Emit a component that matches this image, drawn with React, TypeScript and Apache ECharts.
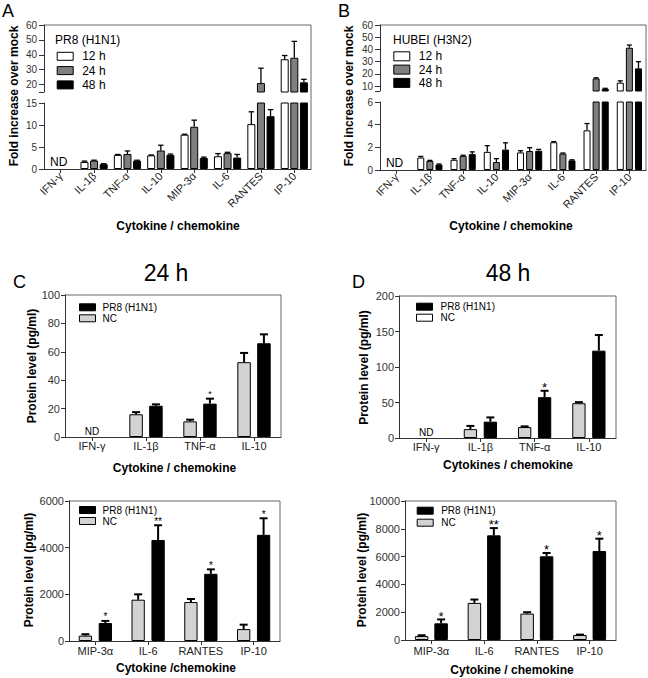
import React, { useEffect, useRef } from 'react';
import * as echarts from 'echarts';

const FONT = 'Liberation Sans, Arial, Helvetica, sans-serif';
const AXIS = '#333333';
const FRAME = '#666666';

// ---------- Panels A / B ----------
const cytokinesAB = ['IFN-γ', 'IL-1β', 'TNF-α', 'IL-10', 'MIP-3α', 'IL-6', 'RANTES', 'IP-10'];
const timePoints = ['12 h', '24 h', '48 h'];

const a12 = [null, 1.6, 3.2, 3.1, 7.8, 2.9, 10.2, 37];
const a12Err = [null, 0.2, 0.1, 0.1, 0.1, 0.6, 2.8, 2.5];
const a24 = [null, 1.9, 3.4, 4.2, 9.6, 3.6, 21, 38];
const a24Err = [null, 0.1, 0.7, 1.2, 1.5, 0.2, 10, 11];
const a48 = [null, 1.1, 1.9, 3.2, 2.5, 2.6, 12, 21.5];
const a48Err = [null, 0.1, 0.1, 0.2, 0.2, 0.7, 1.5, 2];

const b12 = [null, 1.1, 0.9, 1.6, 1.55, 2.45, 3.5, 12.8];
const b12Err = [null, 0.1, 0.1, 0.55, 0.15, 0.05, 0.6, 1.5];
const b24 = [null, 0.8, 1.25, 0.7, 1.67, 1.45, 16.3, 41.4];
const b24Err = [null, 0.05, 0.05, 0.3, 0.3, 0.05, 0.5, 2.2];
const b48 = [null, 0.48, 1.4, 1.8, 1.7, 0.85, 7.8, 24.5];
const b48Err = [null, 0.05, 0.2, 0.6, 0.12, 0.05, 0.4, 5.5];

const aBreak = 15;
const aMax = 60;
const aLowerTickStep = 5;
const aUpperLabels = [20, 30, 40, 50, 60];
const bBreak = 6;
const bMax = 60;
const bLowerTickStep = 2;
const bUpperLabels = [10, 20, 30, 40, 50, 60];

// ---------- Panels C / D ----------
const cytokines1 = ['IFN-γ', 'IL-1β', 'TNF-α', 'IL-10'];
const cytokines2 = ['MIP-3α', 'IL-6', 'RANTES', 'IP-10'];
const groupNames = ['PR8 (H1N1)', 'NC'];

const c1NC = [null, 16, 11, 52.7];
const c1NCErr = [null, 1.5, 1.2, 6.5];
const c1PR8 = [null, 22, 23.5, 66];
const c1PR8Err = [null, 1, 3.5, 6.3];
const c1Sig = ['', '', '*', ''];

const c2NC = [230, 1770, 1670, 510];
const c2NCErr = [60, 230, 130, 190];
const c2PR8 = [770, 4330, 2880, 4550];
const c2PR8Err = [90, 630, 190, 710];
const c2Sig = ['*', '**', '*', '*'];

const d1NC = [null, 12.5, 15.4, 49];
const d1NCErr = [null, 4.5, 1, 1.5];
const d1PR8 = [null, 23, 57.5, 123];
const d1PR8Err = [null, 6, 9, 22];
const d1Sig = ['', '', '*', ''];

const d2NC = [280, 2670, 1900, 360];
const d2NCErr = [60, 240, 100, 30];
const d2PR8 = [1200, 7530, 6020, 6400];
const d2PR8Err = [280, 520, 240, 890];
const d2Sig = ['*', '**', '*', '*'];

const noSig8 = ['', '', '', '', '', '', '', ''];
const noSig4 = ['', '', '', ''];

// ---------- layout ----------
const G = [
  { left: 44, top: 25, width: 267, height: 67 }, // 0 A upper
  { left: 44, top: 103, width: 267, height: 66 }, // 1 A lower
  { left: 380, top: 25, width: 266, height: 66 }, // 2 B upper
  { left: 380, top: 102, width: 266, height: 68 }, // 3 B lower
  { left: 65, top: 295, width: 216, height: 142 }, // 4 C top
  { left: 69, top: 501, width: 211, height: 140 }, // 5 C bottom
  { left: 399, top: 296, width: 217, height: 142 }, // 6 D top
  { left: 405, top: 501, width: 211, height: 139 }, // 7 D bottom
];

function catAxis(gi: number, data: string[], show: boolean, rotate: number, margin: number) {
  return {
    type: 'category',
    gridIndex: gi,
    data,
    show,
    axisLine: { show: true, lineStyle: { color: AXIS, width: 1 } },
    axisTick: { show: true, alignWithLabel: true, length: 4, lineStyle: { color: AXIS } },
    axisLabel: { interval: 0, rotate, margin, fontSize: 11, color: '#222', fontFamily: FONT },
    splitLine: { show: false },
  };
}

function valAxis(
  gi: number,
  min: number,
  max: number,
  interval: number,
  fontSize: number,
  tickLen: number,
  margin: number,
  tickVals?: number[],
  labelVals?: number[]
) {
  const tick: any = { show: true, length: tickLen, lineStyle: { color: AXIS } };
  const label: any = {
    fontSize,
    color: '#333',
    margin,
    fontFamily: FONT,
    formatter: (v: number) => String(v),
  };
  if (tickVals) tick.customValues = tickVals;
  if (labelVals) label.customValues = labelVals;
  return {
    type: 'value',
    gridIndex: gi,
    min,
    max,
    interval,
    axisLine: { show: true, lineStyle: { color: AXIS, width: 1 } },
    axisTick: tick,
    axisLabel: label,
    splitLine: { show: false },
  };
}

function barSeries(gi: number, name: string, data: (number | null)[], color: string, barW: number, gap: number) {
  return {
    type: 'bar',
    name,
    xAxisIndex: gi,
    yAxisIndex: gi,
    data,
    barWidth: barW,
    barGap: gap * 100 + '%',
    clip: true,
    silent: true,
    itemStyle: { color, borderColor: '#000', borderWidth: 1 },
  };
}

function errSeries(
  gi: number,
  vals: (number | null)[],
  errs: (number | null)[],
  sig: string[],
  idx: number,
  n: number,
  barW: number,
  gap: number,
  capW: number,
  lw: number,
  sigSize: number
) {
  const data: number[][] = [];
  vals.forEach((v, k) => {
    if (v != null) data.push([k, v, errs[k] as number]);
  });
  return {
    type: 'custom',
    xAxisIndex: gi,
    yAxisIndex: gi,
    silent: true,
    z: 3,
    data,
    renderItem: (params: any, api: any) => {
      const k = api.value(0);
      const v = api.value(1);
      const e = api.value(2);
      const cs = params.coordSys;
      const c0 = api.coord([k, v]);
      const c1 = api.coord([k, v + e]);
      const groupW = n * barW + (n - 1) * gap * barW;
      const x = c0[0] - groupW / 2 + barW / 2 + idx * barW * (1 + gap);
      const yTop = c1[1];
      if (yTop < cs.y - 0.5 || yTop > cs.y + cs.height + 0.5) return null;
      const yBase = Math.min(c0[1], cs.y + cs.height);
      const children: any[] = [
        { type: 'line', shape: { x1: x, y1: yBase, x2: x, y2: yTop }, style: { stroke: '#000', lineWidth: lw } },
        { type: 'line', shape: { x1: x - capW / 2, y1: yTop, x2: x + capW / 2, y2: yTop }, style: { stroke: '#000', lineWidth: lw } },
      ];
      const s = sig[k];
      if (s) {
        children.push({
          type: 'text',
          x,
          y: yTop - 6 + 0.2 * sigSize,
          style: { text: s, fontSize: sigSize, fill: '#000', align: 'center', verticalAlign: 'middle', fontFamily: FONT },
        });
      }
      return { type: 'group', children };
    },
  };
}

function ndSeries(gi: number, fontSize: number, dx: number) {
  return {
    type: 'custom',
    xAxisIndex: gi,
    yAxisIndex: gi,
    silent: true,
    data: [[0, 0]],
    renderItem: (params: any, api: any) => {
      const p = api.coord([api.value(0), api.value(1)]);
      return {
        type: 'text',
        x: p[0] + dx,
        y: p[1] - 1,
        style: { text: 'ND', fontSize, fill: '#000', align: 'center', verticalAlign: 'bottom', fontFamily: FONT },
      };
    },
  };
}

function frameLines(topG: any, botG: any) {
  const x0 = topG.left;
  const x1 = topG.left + topG.width;
  const y0 = topG.top;
  const y1 = botG.top + botG.height;
  return [
    { type: 'line', silent: true, shape: { x1: x0, y1: y0, x2: x1, y2: y0 }, style: { stroke: FRAME, lineWidth: 1 } },
    { type: 'line', silent: true, shape: { x1: x1, y1: y0, x2: x1, y2: y1 }, style: { stroke: FRAME, lineWidth: 1 } },
  ];
}

function txt(x: number, y: number, text: string, fontSize: number, opts: any = {}) {
  return {
    type: 'text',
    x,
    y,
    rotation: opts.rotation || 0,
    silent: true,
    style: {
      text,
      fontSize,
      fontWeight: opts.bold ? 'bold' : 'normal',
      fill: '#000',
      align: opts.align || 'center',
      verticalAlign: opts.vAlign || 'middle',
      fontFamily: FONT,
    },
  };
}

function legendCfg(left: number, top: number, data: any[], fs: number, iw: number, ih: number, gap: number, textPad: number) {
  return {
    orient: 'vertical',
    left,
    top,
    padding: 0,
    data,
    icon: 'rect',
    itemWidth: iw,
    itemHeight: ih,
    itemGap: gap,
    selectedMode: false,
    itemStyle: { borderColor: '#000', borderWidth: 1 },
    textStyle: { fontSize: fs, lineHeight: fs, color: '#000', fontFamily: FONT, padding: [0, 0, 0, textPad] },
  };
}

function buildOption() {
  const abColors = ['#ffffff', '#7f7f7f', '#000000'];
  const aVals = [a12, a24, a48];
  const aErrs = [a12Err, a24Err, a48Err];
  const bVals = [b12, b24, b48];
  const bErrs = [b12Err, b24Err, b48Err];

  const series: any[] = [];
  // A
  [0, 1].forEach((gi) => {
    timePoints.forEach((tp, i) => {
      series.push(barSeries(gi, tp, aVals[i], abColors[i], 8, 0.2));
    });
    timePoints.forEach((tp, i) => {
      series.push(errSeries(gi, aVals[i], aErrs[i], noSig8, i, 3, 8, 0.2, 5.5, 1.3, 10));
    });
  });
  // B
  [2, 3].forEach((gi) => {
    timePoints.forEach((tp, i) => {
      series.push(barSeries(gi, tp, bVals[i], abColors[i], 7, 0.3));
    });
    timePoints.forEach((tp, i) => {
      series.push(errSeries(gi, bVals[i], bErrs[i], noSig8, i, 3, 7, 0.3, 5, 1.3, 10));
    });
  });
  // C / D
  const cdPanels = [
    { gi: 4, nc: c1NC, ncE: c1NCErr, pr: c1PR8, prE: c1PR8Err, sig: c1Sig, w: 13.5, gap: 0.47, sigSize: 9 },
    { gi: 5, nc: c2NC, ncE: c2NCErr, pr: c2PR8, prE: c2PR8Err, sig: c2Sig, w: 13.3, gap: 0.5, sigSize: 10 },
    { gi: 6, nc: d1NC, ncE: d1NCErr, pr: d1PR8, prE: d1PR8Err, sig: d1Sig, w: 13.3, gap: 0.5, sigSize: 13 },
    { gi: 7, nc: d2NC, ncE: d2NCErr, pr: d2PR8, prE: d2PR8Err, sig: d2Sig, w: 13.5, gap: 0.44, sigSize: 13 },
  ];
  cdPanels.forEach((p) => {
    series.push(barSeries(p.gi, groupNames[1], p.nc, '#d3d3d3', p.w, p.gap));
    series.push(barSeries(p.gi, groupNames[0], p.pr, '#000000', p.w, p.gap));
    series.push(errSeries(p.gi, p.nc, p.ncE, noSig4, 0, 2, p.w, p.gap, 8, 2, p.sigSize));
    series.push(errSeries(p.gi, p.pr, p.prE, p.sig, 1, 2, p.w, p.gap, 8, 2, p.sigSize));
  });
  // ND labels
  series.push(ndSeries(1, 12, -2));
  series.push(ndSeries(3, 12, -2));
  series.push(ndSeries(4, 10, 0));
  series.push(ndSeries(6, 10, 0));

  const aUpperTicks = [aBreak].concat(aUpperLabels);
  const bUpperTicks = [bBreak].concat(bUpperLabels);

  const xAxis = [
    catAxis(0, cytokinesAB, false, 0, 4),
    catAxis(1, cytokinesAB, true, 45, 5),
    catAxis(2, cytokinesAB, false, 0, 4),
    catAxis(3, cytokinesAB, true, 45, 5),
    catAxis(4, cytokines1, true, 0, 3),
    catAxis(5, cytokines2, true, 0, 4),
    catAxis(6, cytokines1, true, 0, 3),
    catAxis(7, cytokines2, true, 0, 5),
  ];
  const yAxis = [
    valAxis(0, aBreak, aMax, 5, 10, 5, 7, aUpperTicks, aUpperLabels),
    valAxis(1, 0, aBreak, aLowerTickStep, 10, 5, 7),
    valAxis(2, bBreak, bMax, 2, 10, 5, 7, bUpperTicks, bUpperLabels),
    valAxis(3, 0, bBreak, bLowerTickStep, 10, 5, 7),
    valAxis(4, 0, 100, 20, 11, 4, 5),
    valAxis(5, 0, 6000, 2000, 11, 4, 5),
    valAxis(6, 0, 200, 50, 11, 4, 5),
    valAxis(7, 0, 10000, 2000, 11, 4, 5),
  ];

  const grid = G.map((g) => ({ ...g, containLabel: false, outerBoundsMode: 'none' }));

  const legend = [
    legendCfg(56.7, 50.3, timePoints, 12, 16, 8, 2.3, 4),
    legendCfg(393.3, 50.3, timePoints, 12, 16, 9, 1.3, 4),
    legendCfg(79, 302.3, groupNames, 10, 16, 7, 1, 2),
    legendCfg(79, 505, groupNames, 10, 16, 7, 1, 2),
    legendCfg(416, 301.7, [groupNames[0], { name: groupNames[1], itemStyle: { color: '#ffffff' } }], 10, 16, 7, 1, 3),
    legendCfg(416.7, 505.7, groupNames, 10, 16, 7, 2, 3),
  ];

  const graphic: any[] = [
    ...frameLines(G[0], G[1]),
    ...frameLines(G[2], G[3]),
    ...frameLines(G[4], G[4]),
    ...frameLines(G[5], G[5]),
    ...frameLines(G[6], G[6]),
    ...frameLines(G[7], G[7]),
    txt(2, 2, 'A', 18, { align: 'left', vAlign: 'top' }),
    txt(338, 2, 'B', 18, { align: 'left', vAlign: 'top' }),
    txt(13, 273, 'C', 18, { align: 'left', vAlign: 'top' }),
    txt(352, 273, 'D', 18, { align: 'left', vAlign: 'top' }),
    txt(166, 273, '24 h', 23),
    txt(508, 273, '48 h', 23),
    txt(55, 40, 'PR8 (H1N1)', 12, { align: 'left' }),
    txt(393, 40, 'HUBEI (H3N2)', 12, { align: 'left' }),
    txt(13.5, 96, 'Fold increase over mock', 12, { bold: true, rotation: Math.PI / 2 }),
    txt(349, 96, 'Fold increase over mock', 12, { bold: true, rotation: Math.PI / 2 }),
    txt(32, 366, 'Protein level (pg/ml)', 12, { bold: true, rotation: Math.PI / 2 }),
    txt(28.5, 570, 'Protein level (pg/ml)', 12, { bold: true, rotation: Math.PI / 2 }),
    txt(363.5, 367.5, 'Protein level (pg/ml)', 12, { bold: true, rotation: Math.PI / 2 }),
    txt(362, 570, 'Protein level (pg/ml)', 12, { bold: true, rotation: Math.PI / 2 }),
    txt(178, 226, 'Cytokine / chemokine', 12, { bold: true }),
    txt(511, 226, 'Cytokine / chemokine', 12, { bold: true }),
    txt(174.5, 468, 'Cytokine / chemokine', 12, { bold: true }),
    txt(176, 668, 'Cytokine /chemokine', 12, { bold: true }),
    txt(508, 465, 'Cytokines / chemokine', 12, { bold: true }),
    txt(512, 670, 'Cytokine / chemokine', 12, { bold: true }),
  ];

  return {
    animation: false,
    backgroundColor: '#ffffff',
    textStyle: { fontFamily: FONT },
    grid,
    xAxis,
    yAxis,
    legend,
    series,
    graphic,
  };
}

export default function App() {
  const ref = useRef<HTMLDivElement>(null);
  useEffect(() => {
    if (!ref.current) return;
    const chart = echarts.init(ref.current, null, { renderer: 'svg' });
    chart.setOption(buildOption() as any);
    return () => chart.dispose();
  }, []);
  return (
    <div
      ref={ref}
      style={{ position: 'absolute', left: 0, top: 0, width: 648, height: 678, background: '#fff' }}
    />
  );
}
